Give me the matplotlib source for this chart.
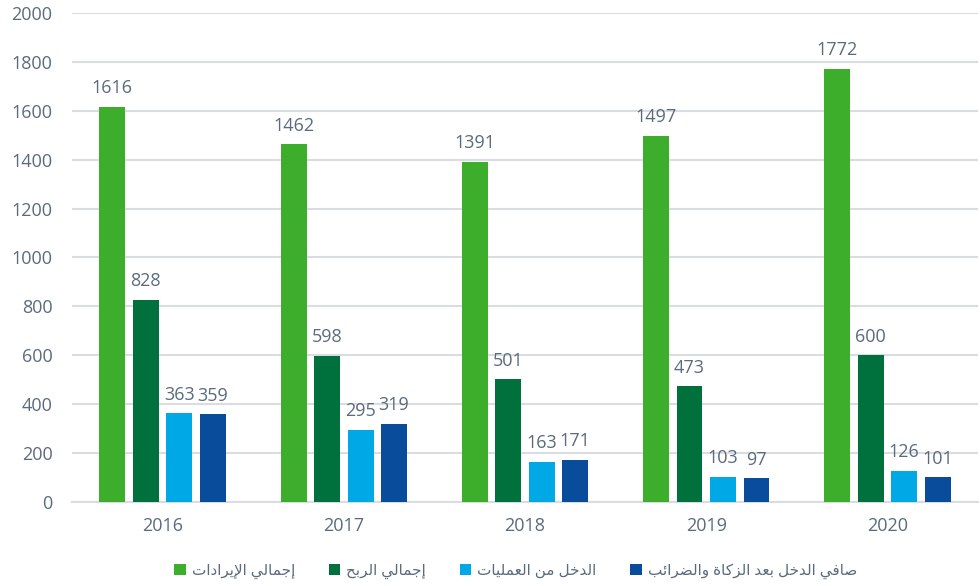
import numpy as np
from matplotlib import pyplot as plt

# data
years = ['2016', '2017', '2018', '2019', '2020']
revenue = [1616, 1462, 1391, 1497, 1772]
gross_profit = [828, 598, 501, 473, 600]
op_income = [363, 295, 163, 103, 126]
net_income = [359, 319, 171, 97, 101]

labels = ['إجمالي الإيرادات', 'إجمالي الربح', 'الدخل من العمليات',
          'صافي الدخل بعد الزكاة والضرائب']
colors = ['#3dae2b', '#00703c', '#00a9e6', '#0a4c9c']
yticks = list(range(0, 2001, 200))

# matplotlib does no arabic shaping, so map letters to presentation forms
# (isolated, final, initial, medial); None = letter does not join to the left
forms = {
    'ا': ('\uFE8D', '\uFE8E', None, None),
    'إ': ('\uFE87', '\uFE88', None, None),
    'أ': ('\uFE83', '\uFE84', None, None),
    'ب': ('\uFE8F', '\uFE90', '\uFE91', '\uFE92'),
    'ت': ('\uFE95', '\uFE96', '\uFE97', '\uFE98'),
    'ة': ('\uFE93', '\uFE94', None, None),
    'ج': ('\uFE9D', '\uFE9E', '\uFE9F', '\uFEA0'),
    'ح': ('\uFEA1', '\uFEA2', '\uFEA3', '\uFEA4'),
    'خ': ('\uFEA5', '\uFEA6', '\uFEA7', '\uFEA8'),
    'د': ('\uFEA9', '\uFEAA', None, None),
    'ر': ('\uFEAD', '\uFEAE', None, None),
    'ز': ('\uFEAF', '\uFEB0', None, None),
    'ص': ('\uFEB9', '\uFEBA', '\uFEBB', '\uFEBC'),
    'ض': ('\uFEBD', '\uFEBE', '\uFEBF', '\uFEC0'),
    'ع': ('\uFEC9', '\uFECA', '\uFECB', '\uFECC'),
    'ف': ('\uFED1', '\uFED2', '\uFED3', '\uFED4'),
    'ك': ('\uFED9', '\uFEDA', '\uFEDB', '\uFEDC'),
    'ل': ('\uFEDD', '\uFEDE', '\uFEDF', '\uFEE0'),
    'م': ('\uFEE1', '\uFEE2', '\uFEE3', '\uFEE4'),
    'ن': ('\uFEE5', '\uFEE6', '\uFEE7', '\uFEE8'),
    'و': ('\uFEED', '\uFEEE', None, None),
    'ي': ('\uFEF1', '\uFEF2', '\uFEF3', '\uFEF4'),
    'ئ': ('\uFE89', '\uFE8A', '\uFE8B', '\uFE8C'),
}
lamalef = {'ا': ('\uFEFB', '\uFEFC'), 'إ': ('\uFEF9', '\uFEFA'),
           'أ': ('\uFEF7', '\uFEF8'), 'آ': ('\uFEF5', '\uFEF6')}


def joins_left(c):
    return c in forms and forms[c][2] is not None


def shape(s):
    out = []
    i = 0
    while i < len(s):
        c = s[i]
        prev = s[i - 1] if i > 0 else ' '
        nxt = s[i + 1] if i + 1 < len(s) else ' '
        if c not in forms:
            out.append(c)
            i += 1
            continue
        p = joins_left(prev)
        if c == 'ل' and nxt in lamalef:
            out.append(lamalef[nxt][1 if p else 0])
            i += 2
            continue
        n = joins_left(c) and nxt in forms
        f = forms[c]
        if p and n:
            out.append(f[3])
        elif p:
            out.append(f[1])
        elif n:
            out.append(f[2])
        else:
            out.append(f[0])
        i += 1
    return ''.join(out)[::-1]


plt.rcParams['font.family'] = ['Open Sans', 'DejaVu Sans']
txt = '#5b6b7d'
grid = '#d9dde2'

fig = plt.figure(figsize=(9.8, 5.86), dpi=100)
ax = fig.add_axes([0.0735, 0.1433, 0.9245, 0.8347])

x = np.arange(len(years))
pitch = 0.185
width = 0.143
series = [revenue, gross_profit, op_income, net_income]
for k, vals in enumerate(series):
    pos = x + (k - 1.5) * pitch
    bars = ax.bar(pos, vals, width, color=colors[k], label=shape(labels[k]), zorder=3)
    for b, v in zip(bars, vals):
        ax.annotate(str(v), (b.get_x() + b.get_width() / 2, v), xytext=(0, 7),
                    textcoords='offset points', ha='center', va='bottom',
                    fontsize=13, color=txt)

ax.set_ylim(0, 2000)
ax.set_xlim(-0.5, len(years) - 0.5)
ax.set_yticks(yticks)
ax.set_xticks(x)
ax.set_xticklabels(years)
ax.yaxis.grid(True, color=grid, linewidth=1.5, zorder=0)
ax.tick_params(length=0, labelsize=13, colors=txt)
ax.tick_params(axis='y', pad=14)
ax.tick_params(axis='x', pad=11)
for s in ['top', 'right', 'left']:
    ax.spines[s].set_visible(False)
ax.spines['bottom'].set_color(grid)
ax.spines['bottom'].set_linewidth(1.5)

leg = fig.legend(loc='lower center', bbox_to_anchor=(0.526, -0.012), ncol=4,
                 frameon=False, fontsize=11, handlelength=0.75, handleheight=0.75,
                 handletextpad=0.4, columnspacing=2.2)
for t in leg.get_texts():
    t.set_color(txt)

fig.savefig('out.png', dpi=100)
